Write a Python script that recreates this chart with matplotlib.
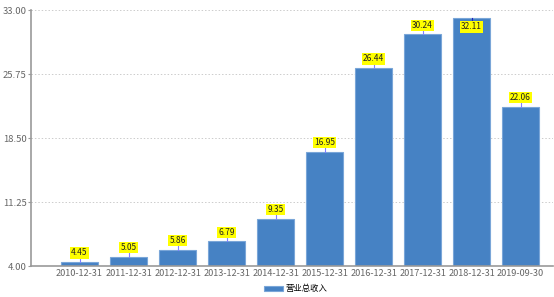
import matplotlib.pyplot as plt
import numpy as np

plt.rcParams['font.family'] = ['Noto Sans CJK SC', 'DejaVu Sans']

# data
dates = ['2010-12-31', '2011-12-31', '2012-12-31', '2013-12-31', '2014-12-31',
         '2015-12-31', '2016-12-31', '2017-12-31', '2018-12-31', '2019-09-30']
revenue = [4.45, 5.05, 5.86, 6.79, 9.35, 16.95, 26.44, 30.24, 32.11, 22.06]
yticks = [4.00, 11.25, 18.50, 25.75, 33.00]
series_name = '营业总收入'

fig = plt.figure(figsize=(5.54, 2.97), dpi=100)
ax = fig.add_axes([31 / 554, 31 / 297, 522 / 554, 256 / 297])

x = np.arange(len(dates))
bars = ax.bar(x, revenue, width=0.76, bottom=0, color='#4682c4',
              edgecolor='#7aa6d8', linewidth=0.8, label=series_name, zorder=2)

ax.set_ylim(4, 33)
ax.set_xlim(-0.99, 9.66)
ax.set_yticks(yticks)
ax.set_yticklabels(['%.2f' % t for t in yticks])
ax.set_xticks(x)
ax.set_xticklabels(dates)
ax.tick_params(axis='x', labelsize=6.6, colors='#666666', length=0, pad=2)
ax.tick_params(axis='y', labelsize=6.8, colors='#666666', length=2, color='#999999', pad=1)

ax.grid(axis='y', linestyle=(0, (1.5, 2)), color='#cccccc', linewidth=0.7, zorder=0)
for s in ['top', 'right']:
    ax.spines[s].set_visible(False)
ax.spines['left'].set_color('#999999')
ax.spines['bottom'].set_color('#999999')
ax.spines['left'].set_linewidth(1.2)
ax.spines['bottom'].set_linewidth(1.2)

ymin, ymax = ax.get_ylim()
for xi, v in zip(x, revenue):
    if v + 2.0 < ymax:
        ax.plot([xi, xi], [v, v + 0.45], color='#8080ff', linewidth=0.8, zorder=3)
        ax.annotate('%.2f' % v, (xi, v), xytext=(0, 6.5), textcoords='offset points',
                    ha='center', va='center', fontsize=6, color='#222222',
                    bbox=dict(boxstyle='square,pad=0.15', fc='#ffff00', ec='none'),
                    zorder=4)
    else:
        ax.plot([xi, xi], [v, v - 0.45], color='#2020c0', linewidth=0.8, zorder=3)
        ax.annotate('%.2f' % v, (xi, v), xytext=(0, -6.5), textcoords='offset points',
                    ha='center', va='center', fontsize=6, color='#222222',
                    bbox=dict(boxstyle='square,pad=0.15', fc='#ffff00', ec='none'),
                    zorder=4)

fig.legend(handles=[bars], labels=[series_name], loc='center', bbox_to_anchor=(296 / 554, 8 / 297),
           frameon=False, fontsize=6, handlelength=2.2, handleheight=0.6, handletextpad=0.4)

fig.savefig('out.png', dpi=100)
